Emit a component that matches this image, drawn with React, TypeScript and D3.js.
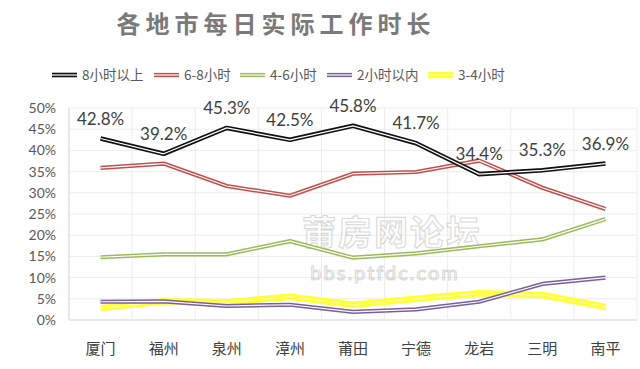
import React from 'react';
import * as d3 from 'd3';

const cities = ['厦门', '福州', '泉州', '漳州', '莆田', '宁德', '龙岩', '三明', '南平'];
const over8 = [42.8, 39.2, 45.3, 42.5, 45.8, 41.7, 34.4, 35.3, 36.9];
const h6to8 = [35.9, 36.9, 31.6, 29.3, 34.5, 34.9, 37.6, 31.2, 26.2];
const h4to6 = [14.8, 15.5, 15.5, 18.6, 14.7, 15.7, 17.4, 19.0, 23.8];
const under2 = [4.3, 4.4, 3.3, 3.6, 1.9, 2.5, 4.3, 8.5, 10.0];
const h3to4 = [2.8, 4.4, 4.2, 5.5, 3.6, 5.0, 6.3, 5.9, 3.1];
const yTicks = [0, 5, 10, 15, 20, 25, 30, 35, 40, 45, 50];

const series = [
  { name: '8小时以上', values: over8, color: '#111111', inner: '#ffffff', width: 4.6 },
  { name: '6-8小时', values: h6to8, color: '#c0504d', inner: '#ffffff', width: 4.2 },
  { name: '4-6小时', values: h4to6, color: '#9bbb59', inner: '#ffffff', width: 4.2 },
  { name: '2小时以内', values: under2, color: '#7a5f9e', inner: '#ffffff', width: 4.2 },
  { name: '3-4小时', values: h3to4, color: '#ffff33', inner: '#ffffa8', width: 6.5 },
];

const W = 640;
const H = 369;
const left = 69;
const right = 637;
const top = 108;
const bottom = 320;
const cjk = '"Noto Sans CJK SC", "Noto Sans", sans-serif';
const num = 'Lato, "Open Sans", sans-serif';

export default function App() {
  const x = d3.scaleBand<string>().domain(cities).range([left, right]);
  const y = d3.scaleLinear().domain([0, 50]).range([bottom, top]);
  const cx = (c: string) => (x(c) as number) + x.bandwidth() / 2;
  const line = d3
    .line<number>()
    .x((_, i) => cx(cities[i]))
    .y((d) => y(d));

  const legendX = [52, 154, 240, 327, 428];

  return (
    <svg width={W} height={H} style={{ position: 'absolute', left: 0, top: 0, background: '#fff' }}>
      <text x={276} y={33} textAnchor="middle" fontFamily={cjk} fontWeight="bold" fontSize={24} letterSpacing={5} fill="#7a7a7a">
        各地市每日实际工作时长
      </text>

      {/* legend */}
      {series.map((s, i) => (
        <g key={s.name} transform={`translate(${legendX[i]},75)`}>
          <line x1={0} x2={25} y1={0} y2={0} stroke={s.color} strokeWidth={s.width} />
          <line x1={0} x2={25} y1={0} y2={0} stroke={s.inner} strokeWidth={1.2} />
          <text x={30} y={5} fontFamily={cjk} fontSize={13.5} fill="#595959">
            {s.name}
          </text>
        </g>
      ))}

      {/* grid */}
      {yTicks.map((t) => (
        <g key={t}>
          <line x1={left} x2={right} y1={y(t)} y2={y(t)} stroke={t === 0 ? '#d0d0d0' : '#ececec'} strokeWidth={1} />
          <text x={56} y={y(t) + 5} textAnchor="end" fontFamily={num} fontSize={14} fill="#595959">
            {t}%
          </text>
        </g>
      ))}
      {cities.map((c) => (
        <line key={c} x1={x(c)} x2={x(c)} y1={top} y2={bottom} stroke="#ececec" strokeWidth={1} />
      ))}
      <line x1={left} x2={left} y1={top} y2={bottom} stroke="#d9d9d9" />
      <line x1={right} x2={right} y1={top} y2={bottom} stroke="#ececec" />

      {cities.map((c) => (
        <text key={c} x={cx(c)} y={354} textAnchor="middle" fontFamily={cjk} fontSize={15} fill="#404040">
          {c}
        </text>
      ))}

      {/* watermark */}
      <g opacity={0.5} fontFamily={cjk} fill="#ffffff" stroke="#b0b0b0" strokeWidth={1}>
        <text x={392} y={245} textAnchor="middle" fontSize={34} fontWeight="bold" letterSpacing={2}>
          莆房网论坛
        </text>
        <text x={385} y={280} textAnchor="middle" fontSize={20} fontFamily={num} letterSpacing={2}>
          bbs.ptfdc.com
        </text>
      </g>

      {/* lines, drawn bottom-up so black is on top */}
      {series
        .slice()
        .reverse()
        .map((s) => (
          <g key={s.name} fill="none" strokeLinejoin="round">
            <path d={line(s.values) as string} stroke={s.color} strokeWidth={s.width} />
            <path d={line(s.values) as string} stroke={s.inner} strokeWidth={1.2} />
          </g>
        ))}

      {over8.map((v, i) => (
        <text key={i} x={cx(cities[i])} y={y(v) - 14} textAnchor="middle" fontFamily={num} fontSize={17} fill="#404040">
          {v.toFixed(1)}%
        </text>
      ))}
    </svg>
  );
}
